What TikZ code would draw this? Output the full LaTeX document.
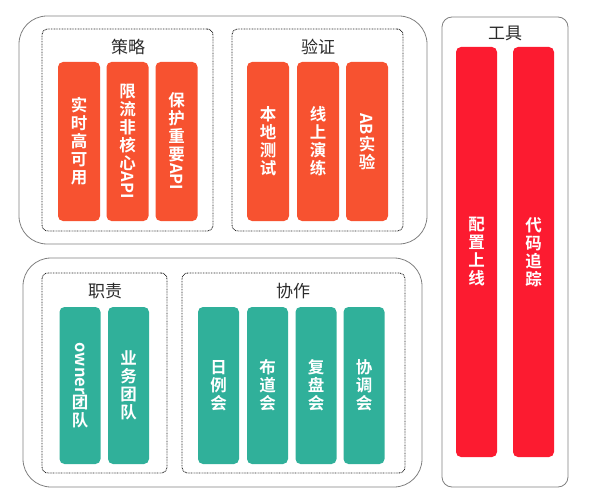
\documentclass[tikz,border=0pt]{standalone}
\usepackage{fontspec}
\setmainfont{Noto Sans CJK SC}[BoldFont={Noto Sans CJK SC Bold}]
\usepackage{graphicx}
\definecolor{orng}{HTML}{F75230}
\definecolor{teal2}{HTML}{30B09A}
\definecolor{red2}{HTML}{FC1B30}
\definecolor{ttl}{HTML}{2A2A2A}
\newcommand{\rt}[1]{\rotatebox[origin=c]{-90}{#1}}
\begin{document}
\begin{tikzpicture}[x=1pt,y=-1pt,
  outerbox/.style={draw=black!50,line width=0.8pt,rounded corners=28pt,inner sep=0pt},
  toolbox/.style={draw=black!50,line width=0.8pt,rounded corners=10pt,inner sep=0pt},
  groupbox/.style={draw=black!85,dash pattern=on 0.8pt off 0.8pt,line width=0.9pt,rounded corners=6pt,inner sep=0pt},
  bar/.style={rectangle,rounded corners=5pt,inner sep=0pt,text=white,align=center,
    font=\fontsize{16.5}{18}\selectfont\bfseries},
  obar/.style={bar,fill=orng,minimum width=42pt,minimum height=159pt},
  rbar/.style={bar,fill=red2,minimum width=41pt,minimum height=410pt},
  tbar/.style={bar,fill=teal2,minimum width=41pt,minimum height=157pt},
  title/.style={text=ttl,font=\fontsize{17}{19}\selectfont,inner sep=0pt}]
\useasboundingbox (0,0) rectangle (589,500);
% containers
\node[outerbox,minimum width=408pt,minimum height=228pt] (top) at (223,130) {};
\node[groupbox,minimum width=171pt,minimum height=202pt] (celue) at (127.5,130) {};
\node[groupbox,minimum width=171pt,minimum height=202pt] (yanzheng) at (317.5,130) {};
\node[toolbox,minimum width=126pt,minimum height=470pt] (gongju) at (505,252) {};
\node[outerbox,minimum width=399pt,minimum height=229pt] (bottom) at (222.5,372.5) {};
\node[groupbox,minimum width=125pt,minimum height=200pt] (zhize) at (104.5,373) {};
\node[groupbox,minimum width=223pt,minimum height=200pt] (xiezuo) at (293.5,373) {};
% titles
\node[title] (t1) at (128,47) {策略};
\node[title] (t2) at (318,47) {验证};
\node[title] (t3) at (505,33) {工具};
\node[title] (t4) at (105,291) {职责};
\node[title] (t5) at (293,291) {协作};
% top bars
\node[obar] (b1) at (79,141.5) {实\\时\\高\\可\\用};
\node[obar] (b2) at (127.5,141.5) {限\\流\\非\\核\\心\\\rt{API}};
\node[obar] (b3) at (176.5,141.5) {保\\护\\重\\要\\\rt{API}};
\node[obar] (b4) at (268,141.5) {本\\地\\测\\试};
\node[obar] (b5) at (318,141.5) {线\\上\\演\\练};
\node[obar] (b6) at (367,141.5) {\rt{AB}\\实\\验};
% tools bars
\node[rbar] (b7) at (476.5,252) {配\\置\\上\\线};
\node[rbar] (b8) at (533.5,252) {代\\码\\追\\踪};
% bottom bars
\node[tbar] (b9) at (80,385.5) {\rt{owner}\\团\\队};
\node[tbar] (b10) at (128.5,385.5) {业\\务\\团\\队};
\node[tbar] (b11) at (218.5,385.5) {日\\例\\会};
\node[tbar] (b12) at (267.5,385.5) {布\\道\\会};
\node[tbar] (b13) at (316,385.5) {复\\盘\\会};
\node[tbar] (b14) at (364,385.5) {协\\调\\会};
\end{tikzpicture}
\end{document}
